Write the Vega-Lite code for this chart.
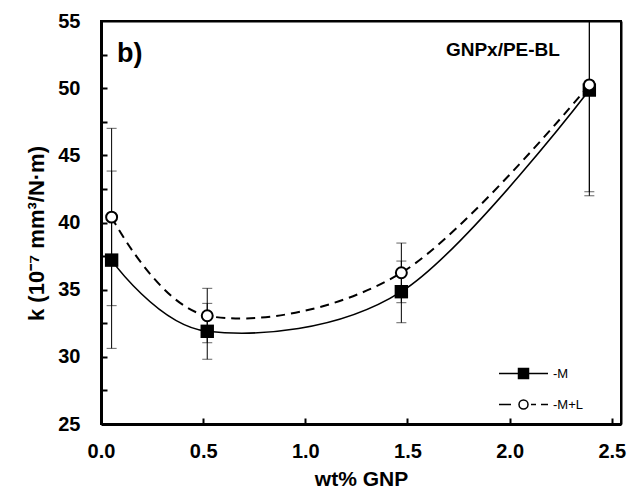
{
  "$schema": "https://vega.github.io/schema/vega-lite/v6.json",
  "width": 520,
  "height": 403,
  "autosize": {"type": "none"},
  "padding": {"left": 101, "top": 21, "right": 7, "bottom": 72},
  "background": "white",
  "config": {
    "view": {"stroke": "black", "strokeWidth": 2},
    "font": "Liberation Sans",
    "axis": {"grid": false}
  },
  "resolve": {"axis": {"x": "independent", "y": "independent"}},
  "datasets": {
    "pts": [
      {"x": 0.052, "y": 37.2, "s": "-M"},
      {"x": 0.52, "y": 31.9, "s": "-M"},
      {"x": 1.47, "y": 34.85, "s": "-M"},
      {"x": 2.39, "y": 49.86, "s": "-M"},
      {"x": 0.052, "y": 40.4, "s": "-M+L"},
      {"x": 0.52, "y": 33.06, "s": "-M+L"},
      {"x": 1.47, "y": 36.26, "s": "-M+L"},
      {"x": 2.39, "y": 50.24, "s": "-M+L"}
    ],
    "errs": [
      {"x": 0.052, "y": 33.81, "y2": 43.83, "s": "-M"},
      {"x": 0.052, "y": 30.63, "y2": 47.01, "s": "-M+L"},
      {"x": 0.52, "y": 31.05, "y2": 33.98, "s": "-M"},
      {"x": 0.52, "y": 29.82, "y2": 35.1, "s": "-M+L"},
      {"x": 1.47, "y": 34.03, "y2": 37.13, "s": "-M"},
      {"x": 1.47, "y": 32.54, "y2": 38.47, "s": "-M+L"},
      {"x": 2.39, "y": 42.29, "y2": 57.5, "s": "-M"},
      {"x": 2.39, "y": 41.99, "y2": 58.5, "s": "-M+L"}
    ],
    "notes": [
      {"t": "b)", "x": 0.078, "y": 51.95, "k": "panel"},
      {"t": "GNPx/PE-BL", "x": 1.967, "y": 52.84, "k": "name"}
    ]
  },
  "encoding": {
    "x": {
      "field": "x",
      "type": "quantitative",
      "scale": {"domain": [0, 2.545], "nice": false, "zero": false},
      "axis": null
    },
    "y": {
      "field": "y",
      "type": "quantitative",
      "scale": {"domain": [25, 55], "nice": false, "zero": false},
      "axis": null
    }
  },
  "layer": [
    {
      "data": {"name": "pts"},
      "transform": [{"filter": "datum.s === '-M'"}],
      "mark": {"type": "line", "interpolate": "cardinal", "tension": 0, "color": "black", "strokeWidth": 1.6},
      "encoding": {
        "x": {
          "field": "x",
          "type": "quantitative",
          "scale": {"domain": [0, 2.545], "nice": false, "zero": false},
          "axis": {
            "values": [0, 0.5, 1, 1.5, 2, 2.5],
            "format": ".1f",
            "title": "wt% GNP",
            "titleFont": "Liberation Sans",
            "titleFontSize": 21,
            "titleFontWeight": "bold",
            "titleColor": "black",
            "titlePadding": 7,
            "labelFont": "Liberation Sans",
            "labelFontSize": 20,
            "labelFontWeight": "bold",
            "labelColor": "black",
            "labelPadding": 17,
            "labelFlush": false,
            "ticks": true,
            "tickSize": 0,
            "domainColor": "black",
            "domainWidth": 3
          }
        },
        "y": {
          "field": "y",
          "type": "quantitative",
          "scale": {"domain": [25, 55], "nice": false, "zero": false},
          "axis": {
            "values": [25, 30, 35, 40, 45, 50, 55],
            "title": "k (10⁻⁷ mm³/N·m)",
            "titleFont": "Liberation Sans",
            "titleFontSize": 22,
            "titleFontWeight": "bold",
            "titleColor": "black",
            "titlePadding": 9,
            "titleY": 212,
            "labelFont": "Liberation Sans",
            "labelFontSize": 20,
            "labelFontWeight": "bold",
            "labelColor": "black",
            "labelPadding": 21,
            "labelFlush": false,
            "ticks": true,
            "tickSize": 0,
            "domainColor": "black",
            "domainWidth": 3
          }
        }
      }
    },
    {
      "data": {"name": "pts"},
      "transform": [{"filter": "datum.s === '-M+L'"}],
      "mark": {"type": "line", "interpolate": "cardinal", "tension": 0, "color": "black", "strokeWidth": 2, "strokeDash": [9, 6]},
      "encoding": {
        "x": {
          "field": "x",
          "type": "quantitative",
          "scale": {"domain": [0, 2.545], "nice": false, "zero": false},
          "axis": {"orient": "top", "labels": false, "ticks": false, "title": null, "domain": true, "domainColor": "black", "domainWidth": 2}
        },
        "y": {
          "field": "y",
          "type": "quantitative",
          "scale": {"domain": [25, 55], "nice": false, "zero": false},
          "axis": {"orient": "right", "labels": false, "ticks": false, "title": null, "domain": true, "domainColor": "black", "domainWidth": 2}
        }
      }
    },
    {
      "data": {"name": "errs"},
      "mark": {
        "type": "errorbar",
        "clip": true,
        "ticks": {"size": 10, "thickness": 1, "color": "#222"},
        "rule": {"strokeWidth": 1, "color": "black"}
      },
      "encoding": {"y2": {"field": "y2"}}
    },
    {
      "data": {"name": "pts"},
      "transform": [{"filter": "datum.s === '-M'"}],
      "mark": {"type": "point", "shape": "square", "size": 180, "filled": true, "color": "black", "opacity": 1},
      "encoding": {
        "x": {
          "field": "x",
          "type": "quantitative",
          "scale": {"domain": [0, 2.545], "nice": false, "zero": false},
          "axis": {"orient": "bottom", "offset": -6, "values": [0.5, 1, 1.5, 2, 2.5], "labels": false, "title": null, "domain": false, "ticks": true, "tickSize": 6, "tickWidth": 2, "tickColor": "black"}
        },
        "y": {
          "field": "y",
          "type": "quantitative",
          "scale": {"domain": [25, 55], "nice": false, "zero": false},
          "axis": {"orient": "left", "offset": -6, "values": [27.5, 30, 32.5, 35, 37.5, 40, 42.5, 45, 47.5, 50, 52.5], "labels": false, "title": null, "domain": false, "ticks": true, "tickSize": 6, "tickWidth": 2, "tickColor": "black"}
        }
      }
    },
    {
      "data": {"name": "pts"},
      "transform": [{"filter": "datum.s === '-M+L'"}],
      "mark": {"type": "point", "shape": "circle", "size": 120, "fill": "white", "stroke": "black", "strokeWidth": 2, "opacity": 1}
    },
    {
      "data": {"name": "pts"},
      "mark": {"type": "point", "opacity": 0, "strokeWidth": 1.5},
      "encoding": {
        "shape": {
          "field": "s",
          "type": "nominal",
          "scale": {
            "domain": ["-M", "-M+L"],
            "range": [
              "M-4.9,0H4.9M-1,-1H1V1H-1Z",
              "M-4.9,0H-2.5M-0.9,0A0.9,0.9,0,1,1,0.9,0A0.9,0.9,0,1,1,-0.9,0M1.5,0H2.5M3.5,0H4.9"
            ]
          },
          "legend": {
            "title": null,
            "orient": "none",
            "legendX": 416,
            "legendY": 346,
            "padding": 0,
            "symbolSize": 100,
            "symbolStrokeWidth": 1.5,
            "symbolStrokeColor": "black",
            "symbolOpacity": 1,
            "labelFont": "Liberation Sans",
            "labelFontSize": 13,
            "labelColor": "black",
            "labelOffset": 23,
            "rowPadding": 15,
            "encode": {"symbols": {"update": {"stroke": {"value": "black"}, "strokeWidth": {"value": 1.5}, "opacity": {"value": 1}}}}
          }
        },
        "fill": {
          "field": "s",
          "type": "nominal",
          "scale": {"domain": ["-M", "-M+L"], "range": ["black", "white"]},
          "legend": {
            "title": null,
            "orient": "none",
            "legendX": 416,
            "legendY": 346,
            "padding": 0,
            "symbolSize": 100,
            "symbolStrokeWidth": 1.5,
            "symbolStrokeColor": "black",
            "symbolOpacity": 1,
            "labelFont": "Liberation Sans",
            "labelFontSize": 13,
            "labelColor": "black",
            "labelOffset": 23,
            "rowPadding": 15,
            "encode": {"symbols": {"update": {"stroke": {"value": "black"}, "strokeWidth": {"value": 1.5}, "opacity": {"value": 1}}}}
          }
        }
      }
    },
    {
      "data": {"name": "notes"},
      "transform": [{"filter": "datum.k === 'panel'"}],
      "mark": {"type": "text", "align": "left", "baseline": "alphabetic", "font": "Liberation Sans", "fontSize": 27, "fontWeight": "bold", "color": "black"},
      "encoding": {"text": {"field": "t"}}
    },
    {
      "data": {"name": "notes"},
      "transform": [{"filter": "datum.k === 'name'"}],
      "mark": {"type": "text", "align": "center", "baseline": "middle", "font": "Liberation Sans", "fontSize": 19, "fontWeight": "bold", "color": "black"},
      "encoding": {"text": {"field": "t"}}
    }
  ]
}
